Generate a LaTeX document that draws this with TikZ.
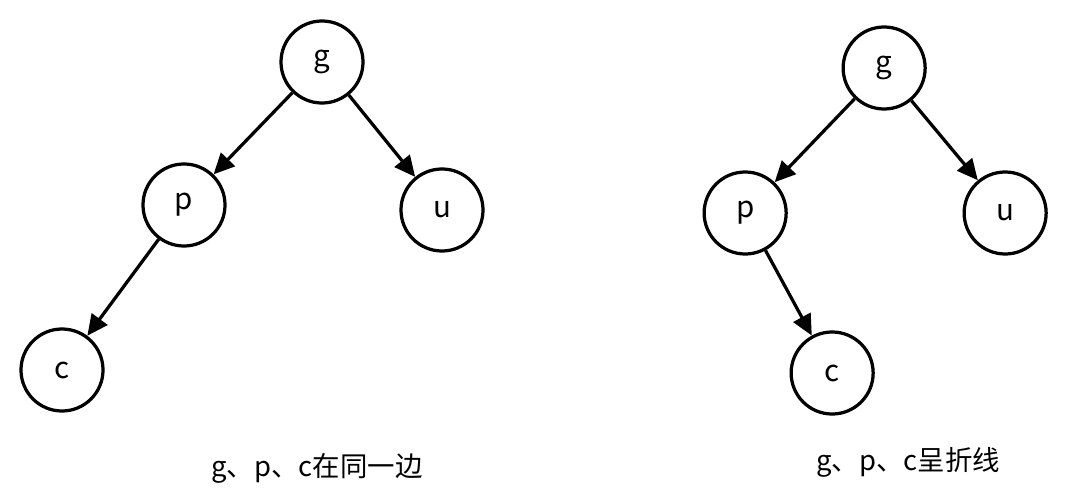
\documentclass[tikz,border=0pt]{standalone}
\usepackage{fontspec}
\setmainfont{Noto Sans CJK SC}
\usetikzlibrary{arrows.meta}
\tikzset{
  vert/.style = {draw, circle, line width = 2.3pt, minimum size = 2.05cm, inner sep = 0pt, font = \fontsize{21}{24}\selectfont},
  edge/.style = {line width = 2.3pt, -{Triangle[length = 0.52cm, width = 0.48cm]}},
  caption/.style = {font = \fontsize{19.5}{22}\selectfont}
}
\begin{document}
\begin{tikzpicture}[x = 0.025cm, y = -0.025cm]
\useasboundingbox (0,0) rectangle (1082,492);
\node[vert] at (322,62) (g) {g};
\node[vert] at (184,205) (p) {p};
\node[vert] at (442,210) (u) {u};
\node[vert] at (62,370) (c) {c};
\draw[edge] (g) -- (p);
\draw[edge] (g) -- (u);
\draw[edge] (p) -- (c);
\node[caption] at (317,468) (t1) {g、p、c在同一边};
\begin{scope}[xshift = 14.05cm, yshift = -0.15cm]
\node[vert] at (322,62) (g) {g};
\node[vert] at (183,207) (p) {p};
\node[vert] at (443,207) (u) {u};
\node[vert] at (270,367) (c) {c};
\draw[edge] (g) -- (p);
\draw[edge] (g) -- (u);
\draw[edge] (p) -- (c);
\node[caption] at (346,456) (t2) {g、p、c呈折线};
\end{scope}
\end{tikzpicture}
\end{document}
